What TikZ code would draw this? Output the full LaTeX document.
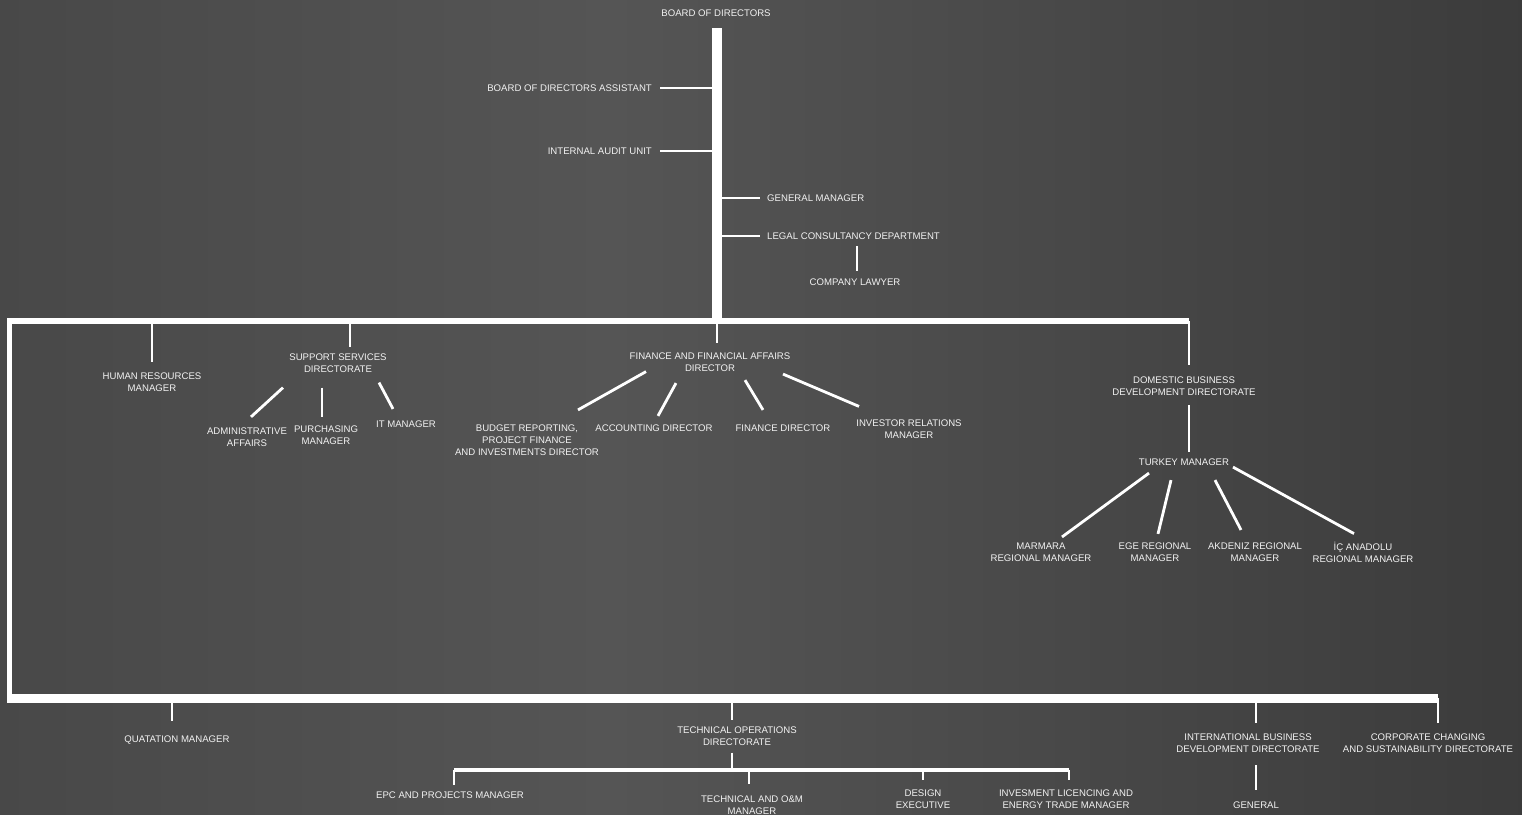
\documentclass[tikz,border=0pt]{standalone}
\usepackage{fontspec}
\setmainfont{Liberation Sans}
\definecolor{bgleft}{HTML}{383838}
\definecolor{bgmid}{HTML}{555555}
\definecolor{bgright}{HTML}{262626}
\definecolor{txt}{HTML}{F2F2F2}
\pgfdeclarehorizontalshading{bgshade}{100bp}{color(0bp)=(bgleft); color(45bp)=(bgmid); color(100bp)=(bgright)}
\tikzset{
  lbl/.style={text=txt, font=\fontsize{9.6}{12}\selectfont, align=center, inner sep=0pt},
  link/.style={draw=white, line width=2.2pt},
  fan/.style={draw=white, line width=2.8pt},
  spine/.style={draw=white, line width=10pt},
  bar/.style={draw=white, line width=5.5pt},
  subbar/.style={draw=white, line width=3.5pt}
}
\begin{document}
\begin{tikzpicture}[x=1pt,y=-1pt]
  \useasboundingbox (0,0) rectangle (1522,814);
  \shade[shading=bgshade] (0,0) rectangle (1522,814);

  % board and the offices beside the spine
  \node[lbl] (bod) at (716,13) {BOARD OF DIRECTORS};
  \node[lbl, anchor=east] (bda) at (652,88) {BOARD OF DIRECTORS ASSISTANT};
  \node[lbl, anchor=east] (iau) at (652,151) {INTERNAL AUDIT UNIT};
  \node[lbl, anchor=west] (gm) at (767,198) {GENERAL MANAGER};
  \node[lbl, anchor=west] (lcd) at (767,236) {LEGAL CONSULTANCY DEPARTMENT};
  \node[lbl] (law) at (855,282) {COMPANY LAWYER};

  \coordinate (spb) at (717,321);
  \coordinate (tbl) at (9.5,321);
  \coordinate (tbr) at (1189,321);
  \coordinate (bbl) at (9.5,698);
  \coordinate (bbr) at (1438,698);
  \coordinate (sbl) at (454,770);
  \coordinate (sbr) at (1069,770);

  \draw[spine, shorten <=11.5pt] (bod.south -| spb) -- (spb);
  \draw[link] ([xshift=8pt]bda.east) -- (bda.east -| spb);
  \draw[link] ([xshift=8pt]iau.east) -- (iau.east -| spb);
  \draw[link] (gm.west -| spb) -- ([xshift=-7pt]gm.west);
  \draw[link] (lcd.west -| spb) -- ([xshift=-7pt]lcd.west);
  \draw[link, shorten <=6.5pt, shorten >=7.5pt] ([xshift=2pt]law.north |- lcd.south) -- ([xshift=2pt]law.north);

  % first level
  \node[lbl] (hr) at (152,382.5) {HUMAN RESOURCES\\MANAGER};
  \node[lbl] (ssd) at (338,363.5) {SUPPORT SERVICES\\DIRECTORATE};
  \node[lbl] (adm) at (247,437) {ADMINISTRATIVE\\AFFAIRS};
  \node[lbl] (pur) at (326,435) {PURCHASING\\MANAGER};
  \node[lbl] (itm) at (406,424) {IT MANAGER};
  \node[lbl] (ffa) at (710,362) {FINANCE AND FINANCIAL AFFAIRS\\DIRECTOR};
  \node[lbl] (bud) at (527,440) {BUDGET REPORTING,\\PROJECT FINANCE\\AND INVESTMENTS DIRECTOR};
  \node[lbl] (acc) at (654,428) {ACCOUNTING DIRECTOR};
  \node[lbl] (fin) at (783,428) {FINANCE DIRECTOR};
  \node[lbl] (inv) at (909,429.5) {INVESTOR RELATIONS\\MANAGER};
  \node[lbl] (dbd) at (1184,386) {DOMESTIC BUSINESS\\DEVELOPMENT DIRECTORATE};
  \node[lbl] (tur) at (1184,462) {TURKEY MANAGER};
  \node[lbl] (mar) at (1041,552) {MARMARA\\REGIONAL MANAGER};
  \node[lbl] (ege) at (1155,552) {EGE REGIONAL\\MANAGER};
  \node[lbl] (akd) at (1255,552) {AKDENIZ REGIONAL\\MANAGER};
  \node[lbl] (ica) at (1363,552) {İÇ ANADOLU\\REGIONAL MANAGER};

  \draw[bar] (tbr) -- (tbl) -- (bbl);
  \draw[link, shorten >=11pt] (hr.north |- tbl) -- (hr.north);
  \draw[link, shorten >=6.5pt] ([xshift=12pt]ssd.north |- tbl) -- ([xshift=12pt]ssd.north);
  \draw[link, shorten >=9.5pt] (spb) -- (spb |- ffa.north);
  \draw[link, shorten >=11.5pt] (tbr) -- (tbr |- dbd.north);

  \draw[fan] ([shift={(-55,14.5)}]ssd.south) -- ([shift={(4,-10.5)}]adm.north);
  \draw[fan] ([shift={(-16,14.5)}]ssd.south) -- ([shift={(-4,-8.5)}]pur.north);
  \draw[fan] ([shift={(41,9.5)}]ssd.south) -- ([shift={(-13,-11.5)}]itm.north);

  \draw[fan] ([shift={(-64,0)}]ffa.south) -- ([shift={(51,-14.5)}]bud.north);
  \draw[fan] ([shift={(-34,11.5)}]ffa.south) -- ([shift={(4,-8.5)}]acc.north);
  \draw[fan] ([shift={(35,8.5)}]ffa.south) -- ([shift={(-20,-14.5)}]fin.north);
  \draw[fan] ([shift={(73,2.5)}]ffa.south) -- ([shift={(-50,-13.5)}]inv.north);

  \draw[link] ([shift={(5,9.5)}]dbd.south) -- ([shift={(5,-6.5)}]tur.north);
  \draw[fan] ([shift={(-35,7.5)}]tur.south) -- ([shift={(21,-5.5)}]mar.north);
  \draw[fan] ([shift={(-13,14.5)}]tur.south) -- ([shift={(3,-8.5)}]ege.north);
  \draw[fan] ([shift={(31,14.5)}]tur.south) -- ([shift={(-14,-12.5)}]akd.north);
  \draw[fan] ([shift={(49,1.5)}]tur.south) -- ([shift={(-9,-8)}]ica.north);

  % lower level
  \node[lbl] (quo) at (177,740) {QUATATION MANAGER};
  \node[lbl] (tod) at (737,736) {TECHNICAL OPERATIONS\\DIRECTORATE};
  \node[lbl] (epc) at (450,795) {EPC AND PROJECTS MANAGER};
  \node[lbl] (tom) at (752,805.5) {TECHNICAL AND O\&M\\MANAGER};
  \node[lbl] (des) at (923,799) {DESIGN\\EXECUTIVE};
  \node[lbl] (ilm) at (1066,799) {INVESMENT LICENCING AND\\ENERGY TRADE MANAGER};
  \node[lbl] (ibd) at (1248,743) {INTERNATIONAL BUSINESS\\DEVELOPMENT DIRECTORATE};
  \node[lbl] (gen) at (1256,805) {GENERAL};
  \node[lbl] (ccs) at (1428,743) {CORPORATE CHANGING\\AND SUSTAINABILITY DIRECTORATE};

  \draw[spine, line width=9pt] ([xshift=-2.5pt]bbl) -- (bbr);
  \draw[link, shorten >=14.5pt] ([xshift=-5pt]quo.north |- bbl) -- ([xshift=-5pt]quo.north);
  \draw[link, shorten >=6pt] ([xshift=-5pt]tod.north |- bbl) -- ([xshift=-5pt]tod.north);
  \draw[link, shorten <=7pt] ([xshift=-5pt]tod.south) -- ([xshift=-5pt]tod.south |- sbl);
  \draw[subbar] (sbl) -- (sbr);
  \draw[link, shorten >=6.5pt] (sbl) -- (sbl |- epc.north);
  \draw[link, shorten >=11.5pt] ([xshift=-3pt]tom.north |- sbl) -- ([xshift=-3pt]tom.north);
  \draw[link, shorten >=9.5pt] (des.north |- sbl) -- (des.north);
  \draw[link, shorten >=9.5pt] (sbr) -- (sbr |- ilm.north);
  \draw[link, shorten >=10.5pt] ([xshift=8pt]ibd.north |- bbl) -- ([xshift=8pt]ibd.north);
  \draw[link, shorten <=12.5pt, shorten >=11.5pt] (gen.north |- ibd.south) -- (gen.north);
  \draw[link, shorten >=10.5pt] (bbr) -- (bbr |- ccs.north);
\end{tikzpicture}
\end{document}
